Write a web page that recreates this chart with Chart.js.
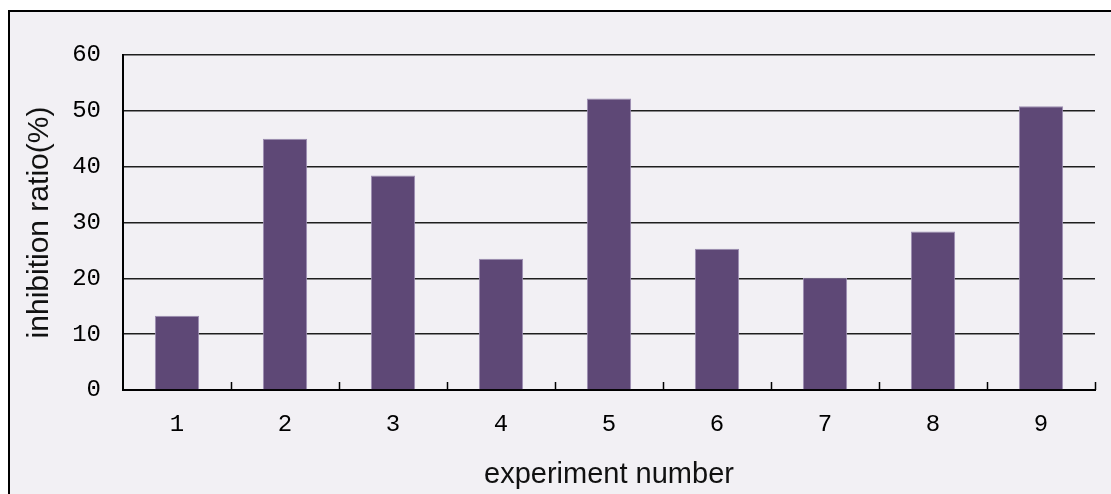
<!DOCTYPE html>
<html>
<head>
<meta charset="utf-8">
<script src="https://cdn.jsdelivr.net/npm/chart.js@4.4.1/dist/chart.umd.min.js"></script>
<style>
  html, body { margin: 0; padding: 0; background: #fff; overflow: hidden; }
  #frame {
    position: absolute; left: 8px; top: 10px; width: 1103px; height: 484px;
    border-top: 2px solid #000; border-left: 2px solid #000;
    background: #f2f0f4;
  }
  #wrap { position: absolute; left: 0; top: 0; width: 1111px; height: 494px; }
</style>
</head>
<body>
<div id="frame"></div>
<div id="wrap"><canvas id="chart"></canvas></div>
<script>
var experiments = ["1", "2", "3", "4", "5", "6", "7", "8", "9"];
var inhibition = [13.3, 45.0, 38.4, 23.5, 52.2, 25.3, 20.1, 28.4, 50.8];
var yTicks = [0, 10, 20, 30, 40, 50, 60];

var canvas = document.getElementById("chart");

// short tick marks pointing up from the x axis, at category boundaries
const innerTicks = {
  id: "innerTicks",
  afterDraw(chart) {
    const x = chart.scales.x;
    const ctx = chart.ctx;
    const half = (x.getPixelForValue(1) - x.getPixelForValue(0)) / 2;
    ctx.save();
    ctx.strokeStyle = "#000";
    ctx.lineWidth = 1.5;
    ctx.beginPath();
    for (let i = 0; i < experiments.length; i++) {
      const px = Math.round(x.getPixelForValue(i) + half) + 0.5;
      ctx.moveTo(px, x.top);
      ctx.lineTo(px, x.top - 8);
    }
    ctx.stroke();
    ctx.restore();
  },
};

const chart = new Chart(canvas, {
  type: "bar",
  data: {
    labels: experiments,
    datasets: [
      {
        label: "inhibition ratio(%)",
        data: inhibition,
        backgroundColor: "#5e4876",
        borderColor: "#9c8cb2",
        borderWidth: 1,
        barPercentage: 0.41,
        categoryPercentage: 1,
      },
    ],
  },
  options: {
    responsive: true,
    maintainAspectRatio: false,
    animation: false,
    layout: { padding: { top: 55, right: 16, left: 0, bottom: 0 } },
    plugins: { legend: { display: false }, tooltip: { enabled: false } },
    scales: {
      x: {
        grid: { display: false },
        border: { display: true, color: "#000", width: 2 },
        ticks: {
          color: "#000",
          padding: 12,
          font: { family: "Liberation Mono", size: 24 },
        },
        title: {
          display: true,
          text: "experiment number",
          color: "#111",
          font: { family: "Liberation Sans", size: 29 },
          padding: { top: 0, bottom: 2 },
        },
        afterFit(scale) { scale.height = 104; },
      },
      y: {
        min: 0,
        max: 60,
        afterBuildTicks(scale) { scale.ticks = yTicks.map((v) => ({ value: v })); },
        grid: { color: "#1e1e1e", lineWidth: 1.5, drawTicks: false },
        border: { display: true, color: "#000", width: 2 },
        ticks: {
          color: "#000",
          padding: 22,
          font: { family: "Liberation Mono", size: 24 },
        },
        title: {
          display: true,
          text: "inhibition ratio(%)",
          color: "#111",
          font: { family: "Liberation Sans", size: 30 },
          padding: { top: 22, bottom: 0 },
        },
        afterFit(scale) { scale.width = 123; },
      },
    },
  },
  plugins: [innerTicks],
});
</script>
</body>
</html>
